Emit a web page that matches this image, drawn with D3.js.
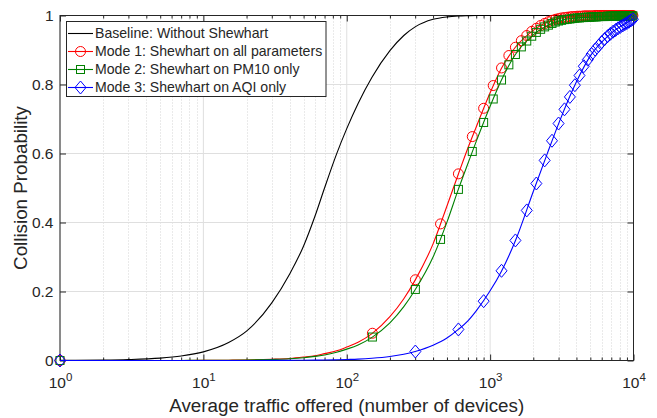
<!DOCTYPE html>
<html>
<head>
<meta charset="utf-8">
<script src="https://cdn.jsdelivr.net/npm/d3@7"></script>
<style>
  body { margin: 0; background: #fff; }
  svg { display: block; }
  text { font-family: "Liberation Sans", Arial, Helvetica, sans-serif; fill: #262626; }
</style>
</head>
<body>
<svg id="chart" width="657" height="418"></svg>
<script>
// Offered traffic (number of devices) at which the curves are sampled
const trafficN = [1, 2, 3, 5, 7, 10, 15, 20, 30, 40,
                  50, 60, 70, 85, 100, 120, 150, 200, 250, 300,
                  400, 500, 600, 700, 800, 1000, 1200, 1500, 2000, 2500,
                  3000, 4000, 5000, 7000, 10000];

// Collision probability curves on trafficN
const baseline = [0.0003, 0.0012, 0.0027, 0.0069, 0.013, 0.025, 0.052, 0.085, 0.167, 0.251,
                  0.332, 0.418, 0.500, 0.599, 0.672, 0.745, 0.821, 0.898, 0.942, 0.967,
                  0.989, 0.996, 0.9986, 0.9995, 1, 1, 1, 1, 1, 1,
                  1, 1, 1, 1, 1];
const mode1Line = [0, 0, 0, 0.0001, 0.0002, 0.0004, 0.0009, 0.0015, 0.0035, 0.006,
                   0.010, 0.014, 0.020, 0.028, 0.039, 0.053, 0.078, 0.127, 0.179, 0.233,
                   0.338, 0.448, 0.540, 0.616, 0.677, 0.776, 0.847, 0.908, 0.957, 0.981,
                   0.991, 0.998, 0.999, 1, 1];
const mode2Line = [0, 0, 0, 0.0001, 0.0002, 0.0003, 0.0007, 0.0013, 0.003, 0.005,
                   0.008, 0.012, 0.016, 0.024, 0.033, 0.045, 0.067, 0.109, 0.156, 0.205,
                   0.300, 0.401, 0.496, 0.571, 0.635, 0.737, 0.813, 0.887, 0.944, 0.970,
                   0.984, 0.993, 0.995, 0.998, 0.999];
const mode3Line = [0, 0, 0, 0, 0, 0, 0.0001, 0.0001, 0.0003, 0.0005,
                   0.0007, 0.001, 0.0014, 0.002, 0.0029, 0.004, 0.0064, 0.0115, 0.018, 0.026,
                   0.044, 0.065, 0.090, 0.115, 0.144, 0.202, 0.259, 0.347, 0.490, 0.599,
                   0.686, 0.808, 0.883, 0.949, 0.990];

// Marker positions: every 150 devices (modes 1, 2) and every 300 devices (mode 3)
const markerN150 = d3.range(1, 10001, 150);
const markerN300 = d3.range(1, 10001, 300);

const mode1Marks = [0, 0.079, 0.234, 0.396, 0.541, 0.649, 0.731, 0.797, 0.848, 0.884,
                    0.908, 0.927, 0.942, 0.954, 0.963, 0.971, 0.977, 0.982, 0.986, 0.989,
                    0.991, 0.993, 0.994, 0.995, 0.996, 0.997, 0.997, 0.998, 0.998, 0.998,
                    0.999, 0.999, 0.999, 0.999, 0.999, 0.999, 1, 1, 1, 1,
                    1, 1, 1, 1, 1, 1, 1, 1, 1, 1,
                    1, 1, 1, 1, 1, 1, 1, 1, 1, 1,
                    1, 1, 1, 1, 1, 1, 1];
const mode2Marks = [0, 0.068, 0.206, 0.351, 0.496, 0.606, 0.690, 0.758, 0.813, 0.857,
                    0.887, 0.909, 0.926, 0.940, 0.951, 0.960, 0.967, 0.972, 0.977, 0.981,
                    0.984, 0.986, 0.988, 0.989, 0.990, 0.991, 0.992, 0.993, 0.993, 0.994,
                    0.994, 0.995, 0.995, 0.995, 0.996, 0.996, 0.996, 0.996, 0.997, 0.997,
                    0.997, 0.997, 0.997, 0.997, 0.998, 0.998, 0.998, 0.998, 0.998, 0.998,
                    0.998, 0.998, 0.998, 0.998, 0.998, 0.998, 0.998, 0.999, 0.999, 0.999,
                    0.999, 0.999, 0.999, 0.999, 0.999, 0.999, 0.999];
const mode3Marks = [0, 0.026, 0.090, 0.172, 0.260, 0.348, 0.435, 0.513, 0.580, 0.637,
                    0.687, 0.728, 0.764, 0.798, 0.826, 0.853, 0.872, 0.888, 0.901, 0.912,
                    0.923, 0.932, 0.940, 0.947, 0.953, 0.958, 0.963, 0.967, 0.971, 0.975,
                    0.978, 0.982, 0.986, 0.989];

const seriesNames = ["Baseline: Without Shewhart",
                     "Mode 1: Shewhart on all parameters",
                     "Mode 2: Shewhart on PM10 only",
                     "Mode 3: Shewhart on AQI only"];
const seriesColors = ["#000000", "#ff0000", "#008000", "#0000ff"];
const seriesMarkers = [null, "circle", "square", "diamond"];

const xTickExponents = [0, 1, 2, 3, 4];
const yTickValues = [0, 0.2, 0.4, 0.6, 0.8, 1];
const yTickLabels = ["0", "0.2", "0.4", "0.6", "0.8", "1"];
const xAxisTitle = "Average traffic offered (number of devices)";
const yAxisTitle = "Collision Probability";

const series = [
  { line: baseline,  markN: [],         marks: [] },
  { line: mode1Line, markN: markerN150, marks: mode1Marks },
  { line: mode2Line, markN: markerN150, marks: mode2Marks },
  { line: mode3Line, markN: markerN300, marks: mode3Marks }
];

const svg = d3.select("#chart");
const plot = { left: 60, right: 633.5, top: 15.5, bottom: 360.5 };
const axisColor = "#262626";

const x = d3.scaleLog().domain([1, 1e4]).range([plot.left, plot.right]);
const y = d3.scaleLinear().domain([0, 1]).range([plot.bottom, plot.top]);

const majorX = xTickExponents.map(e => Math.pow(10, e));
const minorX = [];
for (let e = 0; e < 4; e++) for (let m = 2; m <= 9; m++) minorX.push(m * Math.pow(10, e));

// Grid
const grid = svg.append("g");
grid.selectAll(".minor").data(minorX).join("line")
  .attr("x1", d => Math.round(x(d)) + 0.5).attr("x2", d => Math.round(x(d)) + 0.5)
  .attr("y1", plot.top).attr("y2", plot.bottom)
  .attr("stroke", "#d4d4d4").attr("stroke-width", 1).attr("stroke-dasharray", "1,2");
grid.selectAll(".majx").data(majorX).join("line")
  .attr("x1", d => x(d)).attr("x2", d => x(d))
  .attr("y1", plot.top).attr("y2", plot.bottom)
  .attr("stroke", "#dfdfdf").attr("stroke-width", 1);
grid.selectAll(".majy").data(yTickValues).join("line")
  .attr("x1", plot.left).attr("x2", plot.right)
  .attr("y1", d => y(d)).attr("y2", d => y(d))
  .attr("stroke", "#dfdfdf").attr("stroke-width", 1);

// Axes (ticks point inward, on all four sides)
function styleAxis(g) {
  g.select(".domain").remove();
  g.selectAll(".tick line").attr("stroke", axisColor).attr("stroke-width", 1);
  g.selectAll(".tick text").remove();
}
svg.append("g").attr("transform", `translate(0,${plot.bottom})`)
  .call(d3.axisBottom(x).tickValues(majorX).tickSize(-6).tickFormat("")).call(styleAxis);
svg.append("g").attr("transform", `translate(0,${plot.bottom})`)
  .call(d3.axisBottom(x).tickValues(minorX).tickSize(-3).tickFormat("")).call(styleAxis);
svg.append("g").attr("transform", `translate(0,${plot.top})`)
  .call(d3.axisTop(x).tickValues(majorX).tickSize(-6).tickFormat("")).call(styleAxis);
svg.append("g").attr("transform", `translate(0,${plot.top})`)
  .call(d3.axisTop(x).tickValues(minorX).tickSize(-3).tickFormat("")).call(styleAxis);
svg.append("g").attr("transform", `translate(${plot.left},0)`)
  .call(d3.axisLeft(y).tickValues(yTickValues).tickSize(-6).tickFormat("")).call(styleAxis);
svg.append("g").attr("transform", `translate(${plot.right},0)`)
  .call(d3.axisRight(y).tickValues(yTickValues).tickSize(-6).tickFormat("")).call(styleAxis);

svg.append("rect")
  .attr("x", plot.left).attr("y", plot.top)
  .attr("width", plot.right - plot.left).attr("height", plot.bottom - plot.top)
  .attr("fill", "none").attr("stroke", axisColor).attr("stroke-width", 1);

// Tick labels
svg.append("g").selectAll("text").data(yTickValues).join("text")
  .attr("x", plot.left - 6.5).attr("y", d => y(d)).attr("dy", "0.35em")
  .attr("text-anchor", "end").attr("font-size", 15.5)
  .text((d, i) => yTickLabels[i]);

const xl = svg.append("g").selectAll("text").data(xTickExponents).join("text")
  .attr("x", d => x(Math.pow(10, d)) + 0.5).attr("y", 388)
  .attr("text-anchor", "middle").attr("font-size", 15.5);
xl.append("tspan").text("10");
xl.append("tspan").attr("dy", -7.5).attr("font-size", 11.5).text(d => d);

// Axis titles
svg.append("text")
  .attr("x", (plot.left + plot.right) / 2).attr("y", 412)
  .attr("text-anchor", "middle").attr("font-size", 18.8)
  .text(xAxisTitle);
svg.append("text")
  .attr("transform", `translate(26.5,${(plot.top + plot.bottom) / 2}) rotate(-90)`)
  .attr("text-anchor", "middle").attr("font-size", 18.8)
  .text(yAxisTitle);

// Marker shapes
function drawMarker(sel, type, color) {
  if (type === "circle") {
    sel.append("circle").attr("r", 5).attr("fill", "none")
      .attr("stroke", color).attr("stroke-width", 1);
  } else if (type === "square") {
    sel.append("rect").attr("x", -4).attr("y", -4).attr("width", 8).attr("height", 8)
      .attr("fill", "none").attr("stroke", color).attr("stroke-width", 1);
  } else if (type === "diamond") {
    sel.append("path").attr("d", "M0,-6.5L5.5,0L0,6.5L-5.5,0Z").attr("fill", "none")
      .attr("stroke", color).attr("stroke-width", 1);
  }
}

// Data curves and markers
const lineGen = d3.line()
  .x((d, i) => x(trafficN[i]))
  .y(d => y(d))
  .curve(d3.curveMonotoneX);

series.forEach((s, k) => {
  const g = svg.append("g");
  g.append("path").attr("d", lineGen(s.line))
    .attr("fill", "none").attr("stroke", seriesColors[k]).attr("stroke-width", 1.1);
  if (seriesMarkers[k]) {
    const m = g.selectAll("g.mk").data(s.marks).join("g")
      .attr("transform", (d, i) => `translate(${x(s.markN[i])},${y(d)})`);
    drawMarker(m, seriesMarkers[k], seriesColors[k]);
  }
});

// Legend
const legend = svg.append("g");
legend.append("rect")
  .attr("x", 66.5).attr("y", 21.5).attr("width", 259.5).attr("height", 75)
  .attr("fill", "#fff").attr("stroke", axisColor).attr("stroke-width", 1);
const rowY = [33.5, 51.5, 69.5, 87.5];
const items = legend.selectAll("g.item").data(seriesNames).join("g")
  .attr("transform", (d, i) => `translate(0,${rowY[i]})`);
items.append("line").attr("x1", 68).attr("x2", 93).attr("y1", 0).attr("y2", 0)
  .attr("stroke", (d, i) => seriesColors[i]).attr("stroke-width", 1.1);
items.each(function (d, i) {
  if (seriesMarkers[i]) {
    const m = d3.select(this).append("g").attr("transform", "translate(80.5,0)");
    drawMarker(m, seriesMarkers[i], seriesColors[i]);
  }
});
items.append("text").attr("x", 95).attr("y", 0).attr("dy", "0.35em")
  .attr("font-size", 14.1).text(d => d);
</script>
</body>
</html>
